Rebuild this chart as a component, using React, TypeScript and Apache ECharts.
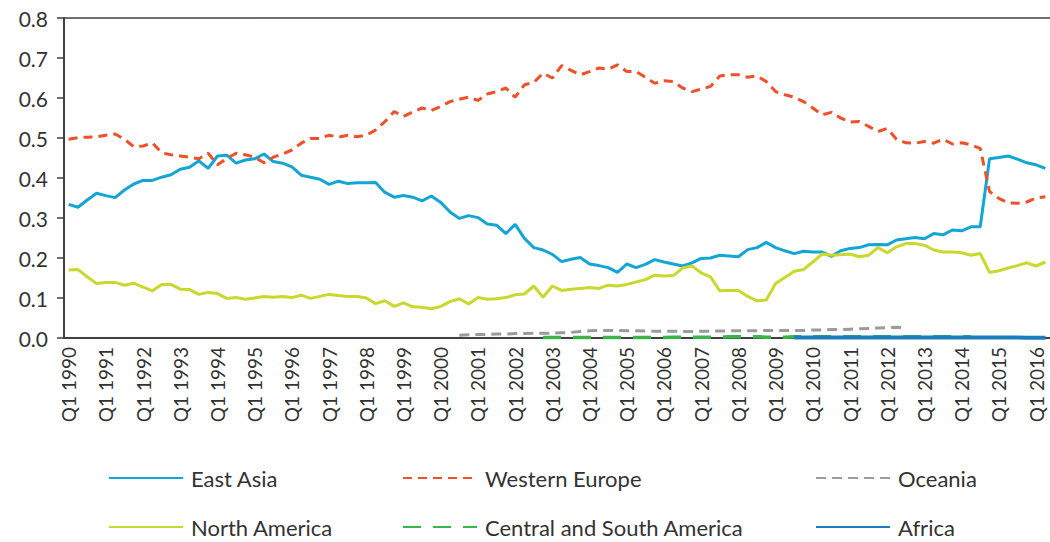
import React, { useEffect, useRef } from "react";
import * as echarts from "echarts";

const years = Array.from({ length: 27 }, (_, k) => 1990 + k);
const quarters = ["Q1", "Q2", "Q3", "Q4"];
const categories: string[] = years.flatMap((y) => quarters.map((q) => `${q} ${y}`)).slice(0, 106);

const yTicks = [0, 0.1, 0.2, 0.3, 0.4, 0.5, 0.6, 0.7, 0.8];

const eastAsia = [
  0.334, 0.327, 0.345, 0.362, 0.356, 0.351, 0.37, 0.385, 0.394, 0.394,
  0.402, 0.408, 0.422, 0.427, 0.443, 0.424, 0.455, 0.457, 0.437, 0.445,
  0.448, 0.46, 0.441, 0.437, 0.428, 0.407, 0.402, 0.397, 0.384, 0.392,
  0.386, 0.388, 0.388, 0.389, 0.364, 0.352, 0.356, 0.352, 0.343, 0.355,
  0.339, 0.315, 0.299, 0.306, 0.301, 0.285, 0.282, 0.261, 0.284, 0.249,
  0.226, 0.22, 0.209, 0.191, 0.197, 0.201, 0.185, 0.181, 0.176, 0.164,
  0.185, 0.176, 0.184, 0.196, 0.19, 0.185, 0.18, 0.188, 0.199, 0.2,
  0.207, 0.205, 0.203, 0.221, 0.226, 0.239, 0.226, 0.218, 0.211, 0.217,
  0.215, 0.215, 0.204, 0.218, 0.224, 0.226, 0.233, 0.234, 0.233, 0.245,
  0.248, 0.251, 0.248, 0.261, 0.258, 0.27, 0.268, 0.278, 0.278, 0.448,
  0.451, 0.455, 0.447, 0.438, 0.433, 0.424,
];

const westernEurope = [
  0.497, 0.501, 0.502, 0.503, 0.507, 0.51, 0.497, 0.478, 0.48, 0.488,
  0.463, 0.458, 0.455, 0.452, 0.448, 0.462, 0.433, 0.449, 0.462, 0.458,
  0.452, 0.438, 0.452, 0.46, 0.47, 0.487, 0.499, 0.499, 0.507, 0.502,
  0.507, 0.503, 0.507, 0.52, 0.541, 0.566, 0.554, 0.565, 0.575, 0.569,
  0.579, 0.591, 0.597, 0.602, 0.594, 0.61, 0.616, 0.625, 0.602, 0.633,
  0.639, 0.662, 0.65, 0.681, 0.669, 0.658, 0.666, 0.675, 0.672, 0.683,
  0.666, 0.666, 0.652, 0.637, 0.643, 0.641, 0.625, 0.616, 0.622, 0.629,
  0.655, 0.658, 0.658, 0.652, 0.655, 0.641, 0.616, 0.608, 0.602, 0.591,
  0.575, 0.558, 0.564, 0.55, 0.54, 0.541, 0.529, 0.516, 0.524, 0.497,
  0.488, 0.487, 0.491, 0.487, 0.497, 0.485, 0.488, 0.483, 0.474, 0.366,
  0.349, 0.338, 0.337, 0.34, 0.35, 0.353,
];

const oceaniaStart = 42;
const oceania = [
  0.007, 0.008, 0.009, 0.009, 0.01, 0.01, 0.011, 0.011, 0.012, 0.012,
  0.012, 0.013, 0.014, 0.016, 0.018, 0.019, 0.019, 0.019, 0.018, 0.018,
  0.0175, 0.017, 0.017, 0.017, 0.016, 0.016, 0.017, 0.017, 0.0175, 0.018,
  0.018, 0.018, 0.018, 0.019, 0.019, 0.019, 0.019, 0.019, 0.02, 0.02,
  0.021, 0.021, 0.022, 0.023, 0.024, 0.025, 0.026, 0.027, 0.026,
];

const northAmerica = [
  0.17, 0.171, 0.153, 0.136, 0.139, 0.139, 0.132, 0.137, 0.127, 0.118,
  0.134, 0.134, 0.122, 0.121, 0.109, 0.114, 0.111, 0.099, 0.101, 0.097,
  0.1, 0.104, 0.102, 0.104, 0.101, 0.107, 0.099, 0.104, 0.109, 0.106,
  0.104, 0.104, 0.1, 0.086, 0.093, 0.079, 0.088, 0.078, 0.077, 0.073,
  0.079, 0.091, 0.098, 0.085, 0.101, 0.097, 0.098, 0.101, 0.108, 0.11,
  0.13, 0.102, 0.13, 0.119, 0.122, 0.124, 0.126, 0.124, 0.132, 0.13,
  0.134, 0.14, 0.146, 0.157, 0.155, 0.156, 0.175, 0.18, 0.163, 0.153,
  0.118, 0.119, 0.119, 0.104, 0.093, 0.095, 0.136, 0.151, 0.167, 0.171,
  0.19, 0.21, 0.207, 0.208, 0.21, 0.203, 0.207, 0.226, 0.213, 0.228,
  0.236, 0.236, 0.232, 0.22, 0.215, 0.215, 0.213, 0.207, 0.211, 0.164,
  0.168, 0.175, 0.181, 0.188, 0.18, 0.19,
];

const centralSouthStart = 51;
const centralSouthAmerica = [
  0.001, 0.001, 0.001, 0.001, 0.001, 0.001, 0.001, 0.001, 0.0015, 0.0015,
  0.0015, 0.0015, 0.0015, 0.0015, 0.002, 0.002, 0.002, 0.002, 0.002, 0.002,
  0.003, 0.003, 0.003, 0.003, 0.002, 0.002, 0.002, 0.003, 0.003, 0.003,
  0.003, 0.003, 0.003, 0.003, 0.003, 0.003, 0.003, 0.003, 0.003, 0.003,
  0.003, 0.003, 0.003, 0.003, 0.003, 0.003, 0.003,
];

const africaStart = 78;
const africa = [
  0.001, 0.001, 0.001, 0.001, 0.001, 0.0015, 0.0015, 0.0015, 0.0015, 0.0015,
  0.0015, 0.0015, 0.0015, 0.0015, 0.0015, 0.0015, 0.0015, 0.0015, 0.0015, 0.0015,
  0.001, 0.001, 0.001, 0.001, 0.001, 0.0005, 0.0005, 0.0005,
];

function pad(start: number, vals: number[]): (number | null)[] {
  const out: (number | null)[] = categories.map(() => null);
  vals.forEach((v, k) => {
    if (start + k < out.length) out[start + k] = v;
  });
  return out;
}

const FONT = "Lato";
const TEXT = "#333333";
const AXIS = "#404040";

export default function App() {
  const ref = useRef<HTMLDivElement>(null);
  useEffect(() => {
    if (!ref.current) return;
    const chart = echarts.init(ref.current, undefined, { renderer: "svg" });
    const mk = (name: string, data: (number | null)[], color: string, width: number, type: any) => ({
      name,
      type: "line",
      data,
      symbol: "none",
      smooth: false,
      connectNulls: false,
      lineStyle: { color, width, type, cap: "butt" },
      itemStyle: { color },
    });
    const legendPos = [
      { name: "East Asia", left: 108, top: 467 },
      { name: "Western Europe", left: 402, top: 467 },
      { name: "Oceania", left: 815, top: 467 },
      { name: "North America", left: 108, top: 516 },
      { name: "Central and South America", left: 402, top: 516 },
      { name: "Africa", left: 815, top: 516 },
    ];
    chart.setOption({
      animation: false,
      backgroundColor: "#ffffff",
      textStyle: { fontFamily: FONT },
      grid: { left: 64, top: 18, width: 992, height: 320, containLabel: false },
      legend: legendPos.map((l) => ({
        data: [l.name],
        left: l.left,
        top: l.top,
        orient: "horizontal",
        itemWidth: 74,
        itemHeight: 22,
        padding: 0,
        itemStyle: { opacity: 0 },
        textStyle: { fontFamily: FONT, fontSize: 22, color: TEXT, padding: [0, 0, 0, 3] },
      })),
      xAxis: [
        {
          type: "category",
          data: categories,
          boundaryGap: true,
          axisLine: { show: true, lineStyle: { color: AXIS, width: 2 } },
          axisTick: { show: false },
          axisLabel: {
            interval: 3,
            rotate: 90,
            margin: 9,
            fontFamily: FONT,
            fontSize: 19,
            color: TEXT,
          },
          splitLine: { show: false },
        },
        {
          type: "category",
          data: categories,
          position: "top",
          boundaryGap: true,
          axisLine: { show: true, lineStyle: { color: AXIS, width: 1.5 } },
          axisTick: { show: false },
          axisLabel: { show: false },
          splitLine: { show: false },
        },
      ],
      yAxis: {
        type: "value",
        min: 0,
        max: 0.8,
        interval: 0.1,
        axisLine: { show: true, lineStyle: { color: AXIS, width: 2 } },
        axisTick: { show: true, length: 7, inside: false, lineStyle: { color: AXIS, width: 1.5 } },
        axisLabel: {
          margin: 16,
          fontFamily: FONT,
          fontSize: 21,
          color: TEXT,
          formatter: (v: number) => v.toFixed(1),
        },
        splitLine: { show: false },
      },
      series: [
        mk("East Asia", eastAsia, "#12a5d6", 3, "solid"),
        mk("Western Europe", westernEurope, "#ef5027", 3, [9, 6]),
        mk("Oceania", pad(oceaniaStart, oceania), "#9b9b9b", 3, [10, 6]),
        mk("North America", northAmerica, "#c8d82c", 3, "solid"),
        mk("Central and South America", pad(centralSouthStart, centralSouthAmerica), "#3bb54a", 3.5, [18, 12]),
        mk("Africa", pad(africaStart, africa), "#1b7dbd", 4, "solid"),
      ],
    });
    return () => chart.dispose();
  }, []);
  return (
    <div
      ref={ref}
      style={{ position: "fixed", left: 0, top: 0, width: 1050, height: 542, background: "#fff" }}
    />
  );
}
